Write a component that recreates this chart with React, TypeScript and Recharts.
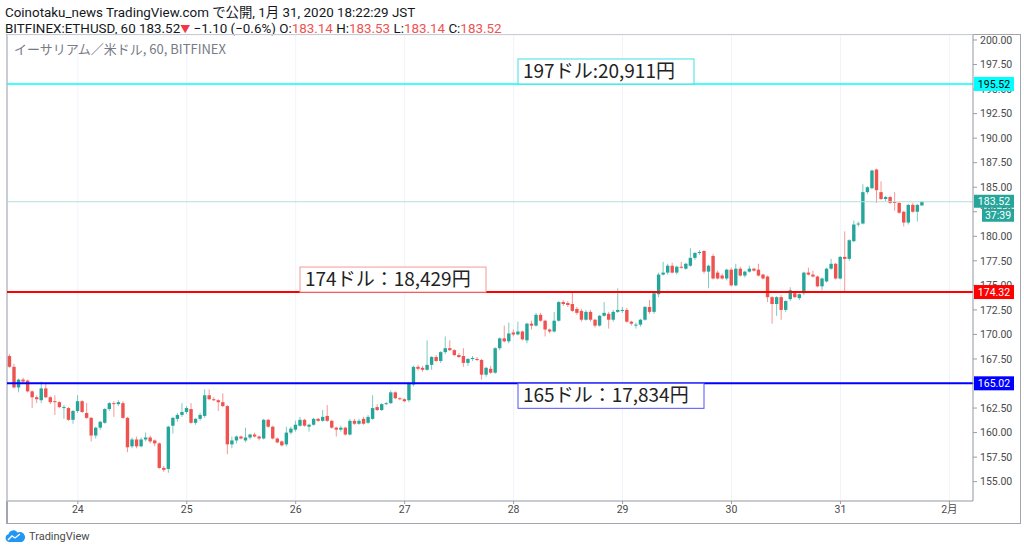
import React from 'react';
import {
  ComposedChart, Bar, XAxis, YAxis, CartesianGrid, ReferenceLine,
} from 'recharts';

// ETH/USD hourly candles, 23 Jan 09:00 JST .. 31 Jan 18:00 JST  [open, high, low, close]
const OHLC: number[][] = [
  [167.8, 168.0, 166.6, 166.7], [166.7, 167.0, 164.5, 164.6], [164.6, 165.5, 164.1, 165.4], [165.4, 165.6, 165.0, 165.2],
  [165.3, 165.4, 164.1, 164.2], [164.2, 164.3, 162.5, 163.6], [163.6, 163.8, 163.0, 163.4], [163.3, 165.2, 163.0, 164.5],
  [164.5, 165.1, 163.5, 163.6], [163.6, 163.7, 162.9, 163.1], [163.2, 163.8, 161.8, 163.1], [163.1, 163.2, 162.5, 162.6],
  [162.5, 162.8, 161.4, 162.6], [162.5, 162.6, 161.2, 161.3], [161.3, 162.3, 160.9, 162.2],
  // 24
  [162.2, 163.8, 162.0, 163.2], [163.2, 163.3, 162.0, 162.1], [162.0, 163.0, 161.4, 161.5], [161.5, 161.6, 159.1, 159.7],
  [159.7, 160.6, 159.4, 160.5], [160.5, 161.2, 160.3, 161.1], [161.0, 162.5, 160.9, 162.4], [162.4, 163.1, 162.2, 163.0],
  [163.0, 163.2, 161.6, 162.9], [162.9, 163.3, 162.7, 163.1], [163.0, 163.2, 161.4, 161.5], [161.5, 161.6, 158.0, 158.5],
  [158.6, 159.5, 158.4, 159.3], [159.3, 159.6, 158.4, 158.6], [158.6, 159.5, 158.5, 159.3], [159.3, 160.0, 159.1, 159.5],
  [159.5, 159.7, 158.9, 159.1], [159.2, 159.3, 158.6, 158.9], [158.9, 159.0, 156.3, 156.4], [156.4, 156.6, 156.0, 156.2],
  [156.3, 160.7, 155.9, 160.6], [160.7, 161.6, 159.9, 161.5], [161.4, 162.0, 161.1, 161.8], [161.8, 163.0, 161.6, 162.1],
  // 25
  [162.1, 162.7, 161.9, 162.5], [162.4, 163.0, 160.9, 161.0], [161.0, 161.5, 160.8, 161.4], [161.4, 162.0, 161.2, 161.8],
  [161.7, 164.4, 161.5, 163.8], [163.8, 164.4, 163.3, 163.4], [163.4, 163.6, 163.2, 163.3], [163.3, 163.4, 162.2, 163.1],
  [163.1, 164.0, 162.6, 162.7], [162.7, 162.8, 157.8, 158.8], [158.8, 159.6, 158.4, 159.2], [159.2, 159.7, 158.9, 159.6],
  [159.6, 159.7, 159.3, 159.4], [159.2, 160.5, 159.0, 159.5], [159.5, 159.9, 159.3, 159.8], [159.8, 160.0, 159.5, 159.6],
  [159.6, 159.7, 159.2, 159.4], [159.4, 161.4, 159.3, 161.3], [161.3, 161.4, 160.5, 160.6], [160.6, 160.7, 159.3, 159.4],
  [159.4, 159.5, 158.9, 159.0], [159.1, 159.2, 158.6, 158.7], [158.8, 160.6, 158.6, 160.0], [160.0, 160.6, 159.8, 160.4],
  // 26
  [160.3, 161.2, 160.1, 160.8], [160.7, 161.6, 160.6, 161.3], [161.3, 161.4, 160.6, 160.7], [160.6, 160.9, 160.1, 160.8],
  [160.8, 161.5, 160.7, 161.4], [161.4, 161.5, 161.1, 161.2], [161.2, 162.3, 161.1, 161.6], [161.7, 162.8, 161.1, 161.2],
  [161.2, 161.3, 160.4, 160.5], [160.5, 160.6, 159.6, 160.3], [160.3, 160.7, 160.1, 160.5], [160.5, 160.6, 159.7, 159.8],
  [159.8, 161.4, 159.7, 161.2], [161.2, 161.4, 160.8, 160.9], [160.9, 161.4, 160.8, 161.2], [161.4, 161.6, 160.8, 160.9],
  [161.0, 161.8, 160.9, 161.6], [161.4, 163.8, 161.3, 162.5], [162.6, 162.9, 162.2, 162.3], [162.3, 163.0, 162.2, 162.9],
  [162.9, 163.1, 162.8, 163.0], [163.0, 164.3, 162.9, 164.1], [164.1, 164.2, 163.4, 163.5], [163.5, 163.6, 163.3, 163.4],
  // 27
  [163.4, 163.5, 163.1, 163.2], [163.3, 165.1, 163.1, 165.0], [164.9, 166.8, 164.7, 166.7], [166.7, 166.9, 166.3, 166.5],
  [166.6, 166.8, 166.2, 166.4], [166.4, 169.4, 166.3, 166.9], [166.9, 167.8, 166.4, 167.7], [167.7, 167.9, 167.2, 167.3],
  [167.3, 168.3, 167.1, 168.2], [168.2, 169.8, 168.0, 168.6], [168.6, 169.4, 168.3, 168.4], [168.4, 168.5, 167.8, 167.9],
  [167.9, 168.1, 167.6, 167.7], [167.8, 168.6, 166.7, 167.1], [167.1, 167.6, 166.8, 167.5], [167.5, 167.8, 167.3, 167.6],
  [167.5, 167.7, 167.3, 167.4], [167.4, 167.5, 165.4, 165.9], [165.9, 166.7, 165.7, 166.6], [166.5, 166.8, 166.0, 166.1],
  [166.1, 168.7, 166.0, 168.6], [168.6, 169.7, 168.4, 169.6], [169.6, 170.9, 169.2, 169.3], [169.3, 171.2, 169.1, 170.1],
  // 28
  [170.2, 170.5, 169.8, 170.0], [170.0, 171.3, 169.9, 170.3], [170.3, 170.4, 169.4, 169.5], [169.4, 171.2, 169.1, 171.1],
  [171.1, 171.4, 170.5, 170.9], [170.9, 172.2, 170.8, 172.0], [172.0, 172.2, 171.3, 171.4], [171.4, 171.5, 169.8, 170.5],
  [170.5, 170.6, 170.1, 170.3], [170.3, 172.3, 170.2, 171.4], [171.4, 173.4, 171.3, 173.3], [173.3, 173.5, 172.9, 173.1],
  [173.2, 173.4, 172.8, 173.0], [173.1, 174.3, 172.3, 172.4], [172.6, 172.8, 172.0, 172.2], [172.4, 172.6, 171.3, 171.5],
  [171.5, 172.5, 171.4, 172.3], [172.3, 172.5, 171.3, 171.5], [171.5, 171.6, 170.7, 170.9], [170.9, 172.0, 170.8, 171.9],
  [171.9, 173.3, 171.8, 172.2], [172.1, 172.3, 170.6, 171.5], [171.5, 172.5, 171.3, 172.3], [172.3, 174.7, 172.2, 172.5],
  // 29
  [172.4, 172.8, 172.2, 172.5], [172.5, 172.7, 171.2, 171.3], [171.3, 171.4, 170.9, 171.1], [170.9, 171.2, 170.6, 171.0],
  [171.0, 171.6, 170.8, 171.5], [171.5, 172.9, 171.4, 172.8], [172.8, 173.5, 172.1, 172.3], [172.3, 174.3, 172.1, 174.2],
  [174.1, 176.3, 173.8, 176.1], [176.1, 177.4, 176.0, 176.3], [176.3, 177.2, 176.1, 177.0], [177.0, 177.3, 176.2, 176.3],
  [176.3, 177.0, 176.1, 176.9], [176.9, 177.4, 176.7, 176.8], [176.7, 177.3, 176.6, 177.2], [177.0, 178.8, 176.9, 177.8],
  [177.8, 178.4, 177.6, 178.3], [178.3, 178.6, 178.1, 178.4], [178.5, 178.6, 176.2, 176.4], [176.4, 177.1, 174.7, 177.0],
  [178.0, 178.2, 175.6, 175.7], [176.3, 176.5, 175.6, 175.7], [176.0, 176.2, 175.6, 175.7], [175.7, 176.7, 175.5, 176.6],
  // 30
  [176.6, 176.8, 174.9, 175.0], [175.0, 177.2, 174.9, 176.7], [176.7, 176.9, 175.9, 176.0], [176.0, 176.5, 175.8, 176.4],
  [176.4, 177.0, 176.3, 176.7], [176.7, 176.8, 176.4, 176.5], [176.6, 177.2, 175.9, 176.0], [176.1, 176.2, 175.6, 175.7],
  [175.9, 176.0, 173.3, 173.8], [173.8, 173.9, 171.1, 173.1], [173.1, 173.9, 171.9, 173.8], [173.8, 174.0, 171.5, 172.5],
  [172.5, 173.5, 172.3, 173.4], [173.6, 174.8, 173.4, 174.5], [174.2, 174.4, 173.7, 173.8], [173.7, 174.2, 173.5, 174.1],
  [174.2, 176.4, 174.0, 176.3], [176.3, 176.8, 176.0, 176.1], [176.1, 176.5, 175.8, 175.9], [175.9, 176.0, 174.8, 174.9],
  [174.9, 175.8, 174.5, 175.7], [175.4, 176.8, 175.3, 176.7], [176.7, 177.7, 176.6, 177.2], [177.2, 177.3, 175.6, 175.7],
  // 31
  [175.7, 178.0, 175.6, 177.9], [177.9, 180.5, 174.4, 177.7], [177.7, 179.7, 177.5, 179.6], [179.5, 181.6, 179.4, 181.2],
  [181.2, 181.5, 181.0, 181.3], [181.3, 185.3, 181.2, 184.5], [184.5, 185.1, 184.3, 185.0], [184.9, 186.8, 184.8, 186.7],
  [186.8, 186.9, 183.4, 184.7], [184.5, 185.6, 183.7, 183.8], [183.8, 184.1, 183.6, 184.0], [184.0, 184.1, 183.3, 183.4],
  [183.5, 184.5, 182.6, 183.4], [183.4, 183.5, 182.3, 182.4], [182.5, 182.6, 181.0, 181.4], [181.4, 183.3, 181.2, 183.2],
  [183.2, 183.4, 182.4, 182.5], [182.5, 183.3, 181.5, 183.2], [183.14, 183.53, 183.14, 183.52],
];

// hour index of each day boundary (0 = 23 Jan 09:00)
const DAY_TICKS = [15, 39, 63, 87, 111, 135, 159, 183, 207];
const DAY_LABELS = ['24', '25', '26', '27', '28', '29', '30', '31', '2月'];
const PRICE_TICKS = [155, 157.5, 160, 162.5, 165, 167.5, 170, 172.5, 175, 177.5, 180, 182.5, 185, 187.5, 190, 192.5, 195, 197.5, 200];

const LEVEL_PRICES = [195.52, 174.32, 165.02];
const LEVEL_COLORS = ['#00ffff', '#ff0000', '#0000ff'];
const LEVEL_NOTES = ['197ドル:20,911円', '174ドル：18,429円', '165ドル：17,834円'];

const LAST_PRICE = 183.52;
const COUNTDOWN = '37:39';

const UP = '#26a69a';
const DOWN = '#ef5350';
const AXIS = '#9a9da3';

const data = OHLC.map(([o, h, l, c], i) => ({ t: i, o, h, l, c }));

const Candle = (props: any) => {
  const { x, y, width, height, payload } = props;
  if (!payload) return null;
  const { o, h, l, c } = payload;
  const top = Math.min(y, y + height);
  const bot = Math.max(y, y + height);
  const k = h > l ? (bot - top) / (h - l) : 0;
  const yo = top + (h - o) * k;
  const yc = top + (h - c) * k;
  const col = c >= o ? UP : DOWN;
  const cx = x + width / 2;
  return (
    <g>
      <line x1={cx} x2={cx} y1={top} y2={bot} stroke={col} strokeOpacity={0.6} strokeWidth={1} />
      <rect x={cx - 1.7} y={Math.min(yo, yc)} width={3.4} height={Math.max(Math.abs(yo - yc), 1)} fill={col} />
    </g>
  );
};

// price-axis tick drawn as a reference label so the level tags can cover it
const PriceTick = (props: any) => {
  const { viewBox, value } = props;
  const right = viewBox.x + viewBox.width;
  return (
    <g>
      <line x1={right} x2={right + 4} y1={viewBox.y} y2={viewBox.y} stroke={AXIS} />
      <text x={right + 7} y={viewBox.y + 3.7} fontSize={10.5} fill="#4a4a4a" fontFamily="Roboto, sans-serif">
        {value.toFixed(2)}
      </text>
    </g>
  );
};

// price tag on the right axis + text box sitting on the line
const LevelLabel = (props: any) => {
  const { viewBox, color, tagText, note, boxX, boxW, below, textColor } = props;
  const ly = viewBox.y;
  const right = viewBox.x + viewBox.width;
  const by = below ? ly : ly - 25;
  return (
    <g>
      <rect x={right + 1} y={ly - 7} width={40} height={14} fill={color} />
      <text x={right + 21} y={ly + 4} textAnchor="middle" fontSize={10.5} fill={textColor}
        fontFamily="Roboto, sans-serif">{tagText}</text>
      <rect x={boxX} y={by} width={boxW} height={25} fill="#fff" stroke={props.boxStroke} strokeWidth={1} />
      <text x={boxX + 5} y={by + 19} fontSize={19} fill="#222"
        fontFamily="'Noto Sans CJK JP', sans-serif">{note}</text>
    </g>
  );
};

const LastLabel = (props: any) => {
  const { viewBox } = props;
  const ly = viewBox.y;
  const right = viewBox.x + viewBox.width;
  return (
    <g fontFamily="Roboto, sans-serif" fontSize={10.5}>
      <rect x={right + 1} y={ly - 7} width={40} height={13} fill={UP} />
      <text x={right + 21} y={ly + 3.5} textAnchor="middle" fill="#fff">{LAST_PRICE.toFixed(2)}</text>
      <rect x={right + 9} y={ly + 7} width={32} height={13} fill={UP} />
      <text x={right + 25} y={ly + 17.5} textAnchor="middle" fill="#fff">{COUNTDOWN}</text>
    </g>
  );
};

const BOX_X = [518, 300, 518];
const BOX_W = [176, 186, 186];
const BOX_STROKE = ['#3fe0e0', '#f39a9a', '#5050ff'];

const red = { color: DOWN };

export default function App() {
  return (
    <div style={{ position: 'fixed', left: 0, top: 0, width: 1024, height: 552, background: '#fff', overflow: 'hidden' }}>
      <div style={{ position: 'absolute', left: 5, top: 5, fontFamily: "Roboto, 'Noto Sans CJK JP', sans-serif", fontSize: 13.4, color: '#131722', lineHeight: '16px', whiteSpace: 'nowrap' }}>
        <div>Coinotaku_news TradingView.com で公開, 1月 31, 2020 18:22:29 JST</div>
        <div>
          BITFINEX:ETHUSD, 60 183.52<span style={{ color: '#f23645', fontSize: 10 }}>▼</span> −1.10 (−0.6%) O:<span style={red}>183.14</span> H:<span style={red}>183.53</span> L:<span style={red}>183.14</span> C:<span style={red}>183.52</span>
        </div>
      </div>
      <div style={{ position: 'absolute', left: 6, top: 34, width: 1012, height: 488, border: '1px solid #a3a6ad', borderLeftWidth: 2 }} />
      <ComposedChart width={1024} height={552} data={data} margin={{ top: 35, right: 4, bottom: 28, left: 7 }}>
        <CartesianGrid stroke="#f0f3fa" />
        <XAxis dataKey="t" type="number" domain={[-0.6, 212.2]} ticks={DAY_TICKS} allowDataOverflow
          tickFormatter={(v: number) => DAY_LABELS[DAY_TICKS.indexOf(v)]} height={23}
          axisLine={{ stroke: AXIS }} tickLine={{ stroke: AXIS }} tickSize={3}
          tick={{ fontSize: 10.5, fill: '#4a4a4a', fontFamily: "Roboto, 'Noto Sans CJK JP', sans-serif" }} />
        <YAxis orientation="right" type="number" domain={[153.03, 200.51]} ticks={PRICE_TICKS} allowDataOverflow
          width={47} axisLine={{ stroke: AXIS }} tickLine={false} tick={false} />
        <Bar dataKey={(d: any) => [d.l, d.h]} barSize={4} shape={<Candle />} isAnimationActive={false} />
        {PRICE_TICKS.map((p) => (
          <ReferenceLine key={'tick' + p} y={p} stroke="none" label={<PriceTick value={p} />} />
        ))}
        <ReferenceLine y={LAST_PRICE} stroke="#b2dfdb" strokeWidth={1} label={<LastLabel />} />
        {LEVEL_PRICES.map((p, i) => (
          <ReferenceLine key={p} y={p} stroke={LEVEL_COLORS[i]} strokeWidth={i === 0 ? 1.5 : 2}
            label={<LevelLabel color={LEVEL_COLORS[i]} tagText={p.toFixed(2)} textColor={i === 0 ? '#000' : '#fff'}
              note={LEVEL_NOTES[i]} boxX={BOX_X[i]} boxW={BOX_W[i]} below={i === 2} boxStroke={BOX_STROKE[i]} />} />
        ))}
      </ComposedChart>
      <div style={{ position: 'absolute', left: 14, top: 39, fontFamily: "'Noto Sans CJK JP', sans-serif", fontSize: 13, color: '#787b86', whiteSpace: 'nowrap' }}>
        イーサリアム／米ドル, 60, BITFINEX
      </div>
      <div style={{ position: 'absolute', left: 5, top: 529, display: 'flex', alignItems: 'center', gap: 4 }}>
        <svg width={20} height={14} viewBox="0 0 20 14">
          <path d="M4 13 A4 4 0 0 1 3.5 5.2 A5 5 0 0 1 12.5 3.5 A4.5 4.5 0 0 1 17 13 Z" fill="#2196f3" />
          <polyline points="3,11 7,7 10,9 15,5" fill="none" stroke="#fff" strokeWidth={1.4} />
        </svg>
        <span style={{ fontFamily: 'Roboto, sans-serif', fontSize: 11, color: '#4a4a4a' }}>TradingView</span>
      </div>
    </div>
  );
}
